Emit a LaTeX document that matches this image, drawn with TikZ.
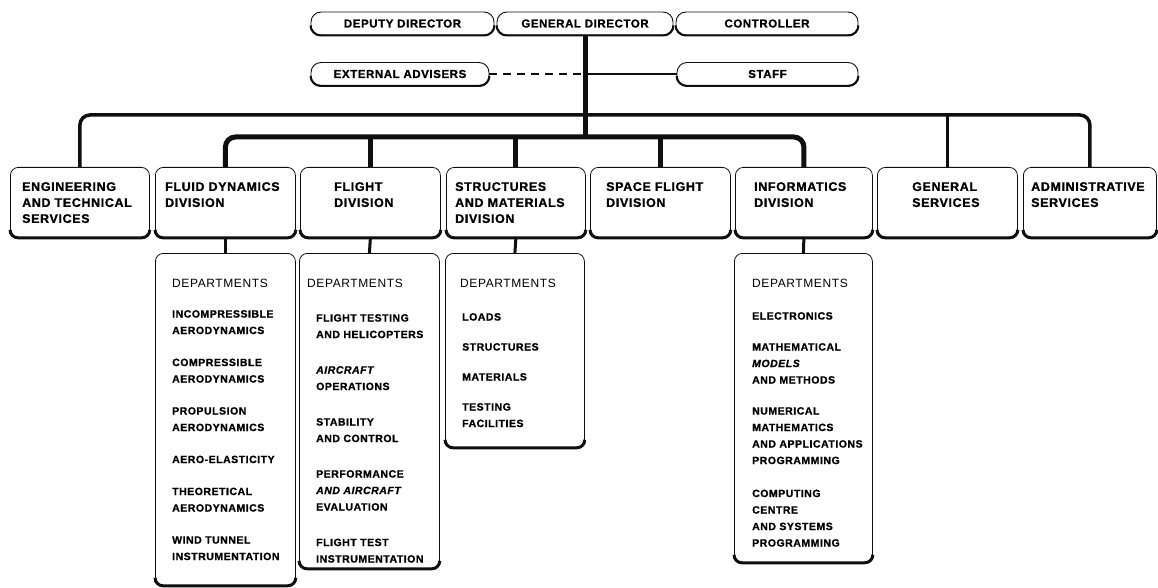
\documentclass[tikz,border=0pt]{standalone}
\usepackage{fontspec}
\usepackage{tikz}
\newfontfamily\chartfont[LetterSpace=5, BoldFeatures={FakeBold=1}, BoldItalicFeatures={FakeBold=1}]{Liberation Sans}
\definecolor{chartink}{RGB}{15,15,15}

\begin{document}
\begin{tikzpicture}[x=1pt, y=-1pt,
  headbox/.style={draw=chartink, line width=0.9pt, rounded corners=10pt, minimum height=23pt,
    inner sep=0pt, font=\chartfont\bfseries\fontsize{11.5}{12}\selectfont},
  unitbox/.style={draw=chartink, line width=0.8pt, rounded corners=8pt, inner sep=0pt, anchor=north west},
  unittext/.style={anchor=north west, inner sep=0pt, align=left,
    font=\chartfont\bfseries\fontsize{12.5}{16}\selectfont},
  depthead/.style={anchor=north west, inner sep=0pt, font=\chartfont\fontsize{12}{14}\selectfont},
  deptitems/.style={anchor=north west, inner sep=0pt, align=left,
    font=\chartfont\bfseries\fontsize{10.5}{16.5}\selectfont},
  boxfoot/.style={chartink, line width=3pt, rounded corners=8pt},
  headfoot/.style={chartink, line width=2pt, rounded corners=10pt},
  trunkline/.style={chartink, line width=5pt, rounded corners=10pt},
  outerline/.style={chartink, line width=3.5pt, rounded corners=10pt},
  deptlink/.style={chartink, line width=3pt},
  thinlink/.style={chartink, line width=2pt}]
\fill[white] (0,0) rectangle (1158,588);
\useasboundingbox (0,0) rectangle (1158,588);

% --- Top row: direction ---
\node[headbox, minimum width=183pt] (deputy) at (402.5,23.5) {DEPUTY DIRECTOR};
\node[headbox, minimum width=176pt] (gd) at (585,23.5) {GENERAL DIRECTOR};
\node[headbox, minimum width=182pt] (ctrl) at (767,23.5) {CONTROLLER};
\node[headbox, minimum width=178pt] (ext) at (400,74) {EXTERNAL ADVISERS};
\node[headbox, minimum width=181pt] (staff) at (767.5,74) {STAFF};
\foreach \b in {deputy,gd,ctrl,ext,staff}
  \draw[headfoot] ([yshift=10pt]\b.south west) -- (\b.south west) -- (\b.south east) -- ([yshift=10pt]\b.south east);

% --- Divisions and services ---
\node[unitbox, minimum width=139pt, minimum height=70pt] (eng) at (10,167) {};
\node[unitbox, minimum width=140pt, minimum height=70pt] (fluid) at (155,167) {};
\node[unitbox, minimum width=140pt, minimum height=70pt] (flight) at (300,167) {};
\node[unitbox, minimum width=139pt, minimum height=70pt] (struct) at (446,167) {};
\node[unitbox, minimum width=140pt, minimum height=70pt] (space) at (590,167) {};
\node[unitbox, minimum width=137pt, minimum height=70pt] (info) at (735,167) {};
\node[unitbox, minimum width=140pt, minimum height=70pt] (gen) at (877,167) {};
\node[unitbox, minimum width=133pt, minimum height=70pt] (admin) at (1023,167) {};

\node[unittext] (engtxt) at (22,182) {ENGINEERING\\AND TECHNICAL\\SERVICES};
\node[unittext] (fluidtxt) at (165,182) {FLUID DYNAMICS\\DIVISION};
\node[unittext] (flighttxt) at (334,182) {FLIGHT\\DIVISION};
\node[unittext] (structtxt) at (455,182) {STRUCTURES\\AND MATERIALS\\DIVISION};
\node[unittext] (spacetxt) at (606,182) {SPACE FLIGHT\\DIVISION};
\node[unittext] (infotxt) at (754,182) {INFORMATICS\\DIVISION};
\node[unittext] (gentxt) at (912,182) {GENERAL\\SERVICES};
\node[unittext] (admintxt) at (1031,182) {ADMINISTRATIVE\\SERVICES};

% --- Department boxes ---
\node[unitbox, minimum width=140pt, minimum height=332pt] (fluid-dept) at (155,253) {};
\node[unitbox, minimum width=140pt, minimum height=315pt] (flight-dept) at (299,253) {};
\node[unitbox, minimum width=139pt, minimum height=194pt] (struct-dept) at (445,253) {};
\node[unitbox, minimum width=138pt, minimum height=309pt] (info-dept) at (734,253) {};

\foreach \b in {eng,fluid,flight,struct,space,info,gen,admin,fluid-dept,flight-dept,struct-dept,info-dept}
  \draw[boxfoot] ([yshift=8pt]\b.south west) -- (\b.south west) -- (\b.south east) -- ([yshift=8pt]\b.south east);

\node[depthead] (fluidhead) at (172,279) {DEPARTMENTS};
\node[depthead] (flighthead) at (307,279) {DEPARTMENTS};
\node[depthead] (structhead) at (460,279) {DEPARTMENTS};
\node[depthead] (infohead) at (752,279) {DEPARTMENTS};

\node[deptitems] (fluiditems) at (172,310) {INCOMPRESSIBLE\\AERODYNAMICS\\[15.5pt]
  COMPRESSIBLE\\AERODYNAMICS\\[15.5pt]
  PROPULSION\\AERODYNAMICS\\[15.5pt]
  AERO-ELASTICITY\\[15.5pt]
  THEORETICAL\\AERODYNAMICS\\[15.5pt]
  WIND TUNNEL\\INSTRUMENTATION};
\node[deptitems] (flightitems) at (316,314) {FLIGHT TESTING\\AND HELICOPTERS\\[19pt]
  {\itshape AIRCRAFT}\\OPERATIONS\\[19pt]
  STABILITY\\AND CONTROL\\[19pt]
  PERFORMANCE\\{\itshape AND AIRCRAFT}\\EVALUATION\\[19pt]
  FLIGHT TEST\\INSTRUMENTATION};
\node[deptitems] (structitems) at (462,313) {LOADS\\[13.5pt]
  STRUCTURES\\[13.5pt]
  MATERIALS\\[13.5pt]
  TESTING\\FACILITIES};
\node[deptitems] (infoitems) at (752,312) {ELECTRONICS\\[14.5pt]
  MATHEMATICAL\\{\itshape MODELS}\\AND METHODS\\[14.5pt]
  NUMERICAL\\MATHEMATICS\\AND APPLICATIONS\\PROGRAMMING\\[16.5pt]
  COMPUTING\\CENTRE\\AND SYSTEMS\\PROGRAMMING};

% --- Connectors ---
\coordinate (advlink) at (585,74);
\coordinate (outerbus) at (585,115);
\coordinate (innerbus) at (585,137);
\draw[thinlink, dash pattern=on 8pt off 6pt] (ext.east) -- (advlink);
\draw[thinlink] (advlink) -- (staff.west);
\draw[outerline] (eng.north) |- (outerbus) -| (admin.north);
\draw[outerline] (gen.north) -- (gen.north |- outerbus);
\draw[trunkline] (fluid.north) |- (innerbus) -| (info.north);
\draw[trunkline] (gd.south) -- (innerbus);
\foreach \u in {flight,struct,space}
  \draw[trunkline] (\u.north) -- (\u.north |- innerbus);
\foreach \u in {fluid,flight,struct,info}
  \draw[deptlink] (\u.south) -- (\u-dept.north);
\end{tikzpicture}
\end{document}
